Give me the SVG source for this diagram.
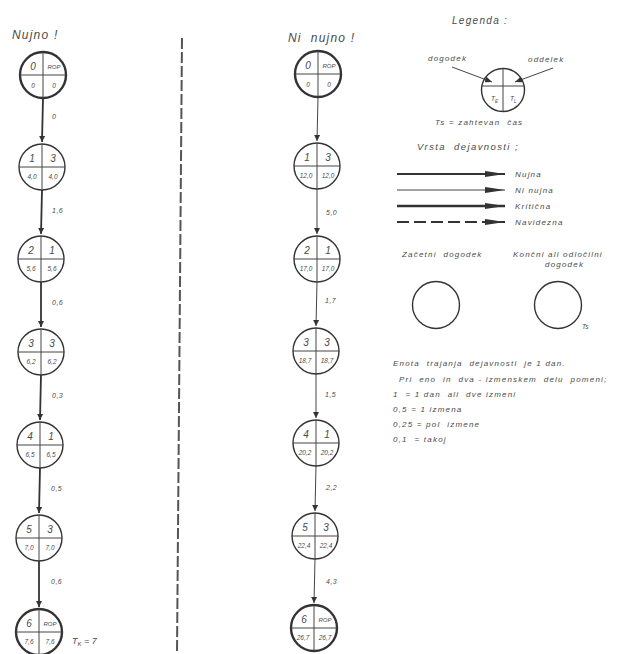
<svg xmlns="http://www.w3.org/2000/svg" width="619" height="654" viewBox="0 0 619 654">
<defs>
<style>
text{font-family:"Liberation Sans",Arial,sans-serif;font-style:italic;fill:#4a4a4a}
.nc{fill:none;stroke:#333;stroke-width:1.4}
.nc.b{stroke-width:2.4}
.dv{stroke:#444;stroke-width:1}
.num{font-size:10px;text-anchor:middle}
.rop{font-size:6px;text-anchor:middle}
.val{font-size:6.5px;text-anchor:middle}
.el{font-size:7px;letter-spacing:0.5px}
.ttl{font-size:12px;letter-spacing:1.2px}
.lg{font-size:8px;letter-spacing:1.2px}
.e1{stroke:#333;stroke-width:1.8;fill:none}
.e2{stroke:#444;stroke-width:1;fill:none}
</style>
<marker id="ah" markerWidth="6" markerHeight="8" refX="6" refY="4" orient="auto" markerUnits="userSpaceOnUse"><path d="M0,1 L6,4 L0,7 Z" fill="#333"/></marker>
<marker id="lah" markerWidth="20" markerHeight="8" refX="20" refY="4" orient="auto" markerUnits="userSpaceOnUse"><path d="M0,1 L20,4 L0,7 Z" fill="#333"/></marker>
<marker id="sah" markerWidth="7" markerHeight="6" refX="7" refY="3" orient="auto" markerUnits="userSpaceOnUse"><path d="M0,0 L7,3 L0,6 Z" fill="#333"/></marker>
</defs>
<rect width="619" height="654" fill="#fff"/>

<text class="ttl" x="12" y="39">Nujno !</text>
<text class="ttl" x="288" y="42">Ni&#160;&#160;nujno !</text>

<line x1="182" y1="38" x2="177" y2="654" stroke="#555" stroke-width="2" stroke-dasharray="11,3"/>

<g id="connectors">
<line class="e1" x1="43" y1="98" x2="42" y2="142" marker-end="url(#ah)"/>
<line class="e1" x1="42" y1="190" x2="41" y2="234" marker-end="url(#ah)"/>
<line class="e1" x1="41" y1="282" x2="41" y2="327" marker-end="url(#ah)"/>
<line class="e1" x1="41" y1="375" x2="40" y2="420" marker-end="url(#ah)"/>
<line class="e1" x1="40" y1="468" x2="39" y2="513" marker-end="url(#ah)"/>
<line class="e1" x1="39" y1="561" x2="39" y2="607" marker-end="url(#ah)"/>
<text class="el" x="52" y="119">0</text>
<text class="el" x="52" y="213">1,6</text>
<text class="el" x="52" y="305">0,6</text>
<text class="el" x="52" y="398">0,3</text>
<text class="el" x="51" y="491">0,5</text>
<text class="el" x="51" y="584">0,6</text>

<line class="e2" x1="318" y1="97" x2="317" y2="141" marker-end="url(#ah)"/>
<line class="e2" x1="317" y1="189" x2="317" y2="234" marker-end="url(#ah)"/>
<line class="e2" x1="317" y1="282" x2="316" y2="326" marker-end="url(#ah)"/>
<line class="e2" x1="316" y1="374" x2="316" y2="418" marker-end="url(#ah)"/>
<line class="e2" x1="316" y1="466" x2="315" y2="511" marker-end="url(#ah)"/>
<line class="e2" x1="315" y1="559" x2="314" y2="603" marker-end="url(#ah)"/>
<text class="el" x="326" y="215">5,0</text>
<text class="el" x="325" y="303">1,7</text>
<text class="el" x="325" y="397">1,5</text>
<text class="el" x="326" y="490">2,2</text>
<text class="el" x="326" y="584">4,3</text>
</g>

<g id="L0"><circle class="nc b" cx="43" cy="75" r="23"/><line class="dv" x1="43" y1="52" x2="43" y2="98"/><line class="dv" x1="20" y1="75" x2="66" y2="75"/>
<text class="num" x="33" y="70">0</text><text class="rop" x="54" y="69">ROP</text><text class="val" x="33" y="88">0</text><text class="val" x="54" y="88">0</text></g>
<g id="L1"><circle class="nc" cx="42" cy="167" r="23"/><line class="dv" x1="42" y1="144" x2="42" y2="190"/><line class="dv" x1="19" y1="167" x2="65" y2="167"/>
<text class="num" x="32" y="162">1</text><text class="num" x="53" y="162">3</text><text class="val" x="32" y="179">4,0</text><text class="val" x="53" y="179">4,0</text></g>
<g id="L2"><circle class="nc" cx="41" cy="259" r="23"/><line class="dv" x1="41" y1="236" x2="41" y2="282"/><line class="dv" x1="18" y1="259" x2="64" y2="259"/>
<text class="num" x="31" y="254">2</text><text class="num" x="52" y="254">1</text><text class="val" x="31" y="271">5,6</text><text class="val" x="52" y="271">5,6</text></g>
<g id="L3"><circle class="nc" cx="41" cy="352" r="23"/><line class="dv" x1="41" y1="329" x2="41" y2="375"/><line class="dv" x1="18" y1="352" x2="64" y2="352"/>
<text class="num" x="31" y="347">3</text><text class="num" x="52" y="347">3</text><text class="val" x="31" y="364">6,2</text><text class="val" x="52" y="364">6,2</text></g>
<g id="L4"><circle class="nc" cx="40" cy="445" r="23"/><line class="dv" x1="40" y1="422" x2="40" y2="468"/><line class="dv" x1="17" y1="445" x2="63" y2="445"/>
<text class="num" x="30" y="440">4</text><text class="num" x="51" y="440">1</text><text class="val" x="30" y="457">6,5</text><text class="val" x="51" y="457">6,5</text></g>
<g id="L5"><circle class="nc" cx="39" cy="538" r="23"/><line class="dv" x1="39" y1="515" x2="39" y2="561"/><line class="dv" x1="16" y1="538" x2="62" y2="538"/>
<text class="num" x="29" y="533">5</text><text class="num" x="50" y="533">3</text><text class="val" x="29" y="550">7,0</text><text class="val" x="50" y="550">7,0</text></g>
<g id="L6"><circle class="nc b" cx="39" cy="632" r="23"/><line class="dv" x1="39" y1="609" x2="39" y2="655"/><line class="dv" x1="16" y1="632" x2="62" y2="632"/>
<text class="num" x="29" y="627">6</text><text class="rop" x="50" y="626">ROP</text><text class="val" x="29" y="644">7,6</text><text class="val" x="50" y="644">7,6</text>
<text x="72" y="644" style="font-size:9px">T<tspan style="font-size:6px" dy="2">K</tspan><tspan dy="-2"> = 7</tspan></text></g>

<g id="M0"><circle class="nc b" cx="318" cy="74" r="23"/><line class="dv" x1="318" y1="51" x2="318" y2="97"/><line class="dv" x1="295" y1="74" x2="341" y2="74"/>
<text class="num" x="308" y="69">0</text><text class="rop" x="329" y="68">ROP</text><text class="val" x="308" y="87">0</text><text class="val" x="329" y="87">0</text></g>
<g id="M1"><circle class="nc" cx="317" cy="166" r="23"/><line class="dv" x1="317" y1="143" x2="317" y2="189"/><line class="dv" x1="294" y1="166" x2="340" y2="166"/>
<text class="num" x="307" y="161">1</text><text class="num" x="328" y="161">3</text><text class="val" x="306" y="178">12,0</text><text class="val" x="328" y="178">12,0</text></g>
<g id="M2"><circle class="nc" cx="317" cy="259" r="23"/><line class="dv" x1="317" y1="236" x2="317" y2="282"/><line class="dv" x1="294" y1="259" x2="340" y2="259"/>
<text class="num" x="307" y="254">2</text><text class="num" x="328" y="254">1</text><text class="val" x="306" y="271">17,0</text><text class="val" x="328" y="271">17,0</text></g>
<g id="M3"><circle class="nc" cx="316" cy="351" r="23"/><line class="dv" x1="316" y1="328" x2="316" y2="374"/><line class="dv" x1="293" y1="351" x2="339" y2="351"/>
<text class="num" x="306" y="346">3</text><text class="num" x="327" y="346">3</text><text class="val" x="305" y="363">18,7</text><text class="val" x="327" y="363">18,7</text></g>
<g id="M4"><circle class="nc" cx="316" cy="443" r="23"/><line class="dv" x1="316" y1="420" x2="316" y2="466"/><line class="dv" x1="293" y1="443" x2="339" y2="443"/>
<text class="num" x="306" y="438">4</text><text class="num" x="327" y="438">1</text><text class="val" x="305" y="455">20,2</text><text class="val" x="327" y="455">20,2</text></g>
<g id="M5"><circle class="nc" cx="315" cy="536" r="23"/><line class="dv" x1="315" y1="513" x2="315" y2="559"/><line class="dv" x1="292" y1="536" x2="338" y2="536"/>
<text class="num" x="305" y="531">5</text><text class="num" x="326" y="531">3</text><text class="val" x="304" y="548">22,4</text><text class="val" x="326" y="548">22,4</text></g>
<g id="M6"><circle class="nc b" cx="314" cy="628" r="23"/><line class="dv" x1="314" y1="605" x2="314" y2="651"/><line class="dv" x1="291" y1="628" x2="337" y2="628"/>
<text class="num" x="304" y="623">6</text><text class="rop" x="325" y="622">ROP</text><text class="val" x="303" y="640">26,7</text><text class="val" x="325" y="640">26,7</text></g>

<g id="legend">
<text x="452" y="24" style="font-size:10px;letter-spacing:1.3px">Legenda :</text>
<text class="lg" x="428" y="61">dogodek</text>
<text class="lg" x="528" y="62">oddelek</text>
<g id="legend-node"><circle class="nc" cx="503" cy="90" r="21.5"/><line class="dv" x1="503" y1="68.5" x2="503" y2="111.5"/><line class="dv" x1="481.5" y1="86" x2="524.5" y2="86"/>
<text x="491" y="101" style="font-size:6.5px">T<tspan dy="1.5" style="font-size:4.5px">E</tspan></text>
<text x="510" y="101" style="font-size:6.5px">T<tspan dy="1.5" style="font-size:4.5px">L</tspan></text></g>
<line class="e2" x1="452" y1="67" x2="492" y2="82" marker-end="url(#sah)"/>
<line class="e2" x1="553" y1="68" x2="515" y2="82" marker-end="url(#sah)"/>
<text class="lg" x="435" y="125">Ts = zahtevan&#160;&#160;čas</text>
<text x="417" y="150" style="font-size:9.5px;letter-spacing:1.4px">Vrsta&#160;&#160;dejavnosti ;</text>

<line x1="397" y1="174" x2="505" y2="174" stroke="#333" stroke-width="1.8" marker-end="url(#lah)"/>
<line x1="397" y1="190" x2="505" y2="190" stroke="#444" stroke-width="1" marker-end="url(#lah)"/>
<line x1="397" y1="206" x2="505" y2="206" stroke="#333" stroke-width="2.6" marker-end="url(#lah)"/>
<line x1="397" y1="222" x2="505" y2="222" stroke="#333" stroke-width="1.8" stroke-dasharray="12,5" marker-end="url(#lah)"/>
<text class="lg" x="515" y="177">Nujna</text>
<text class="lg" x="515" y="193">Ni nujna</text>
<text class="lg" x="515" y="209">Kritična</text>
<text class="lg" x="515" y="225">Navidezna</text>

<text class="lg" x="402" y="257">Začetni&#160;&#160;dogodek</text>
<text class="lg" x="513" y="257">Končni ali odločilni</text>
<text class="lg" x="545" y="267">dogodek</text>
<circle class="nc" cx="436" cy="305" r="23.5"/>
<circle class="nc" cx="558" cy="305" r="23.5"/>
<text x="582" y="329" style="font-size:6.5px">Ts</text>

<text class="lg" x="393" y="366">Enota&#160;&#160;trajanja&#160;&#160;dejavnosti&#160;&#160;je 1 dan.</text>
<text class="lg" x="399" y="382">Pri&#160;&#160;eno&#160;&#160;in&#160;&#160;dva - izmenskem&#160;&#160;delu&#160;&#160;pomeni;</text>
<text class="lg" x="393" y="397">1&#160;&#160;=&#160;1 dan&#160;&#160;ali&#160;&#160;dve izmeni</text>
<text class="lg" x="393" y="412">0,5 = 1 izmena</text>
<text class="lg" x="393" y="427">0,25 = pol&#160;&#160;izmene</text>
<text class="lg" x="393" y="442">0,1&#160;&#160;= takoj</text>
</g>
</svg>
